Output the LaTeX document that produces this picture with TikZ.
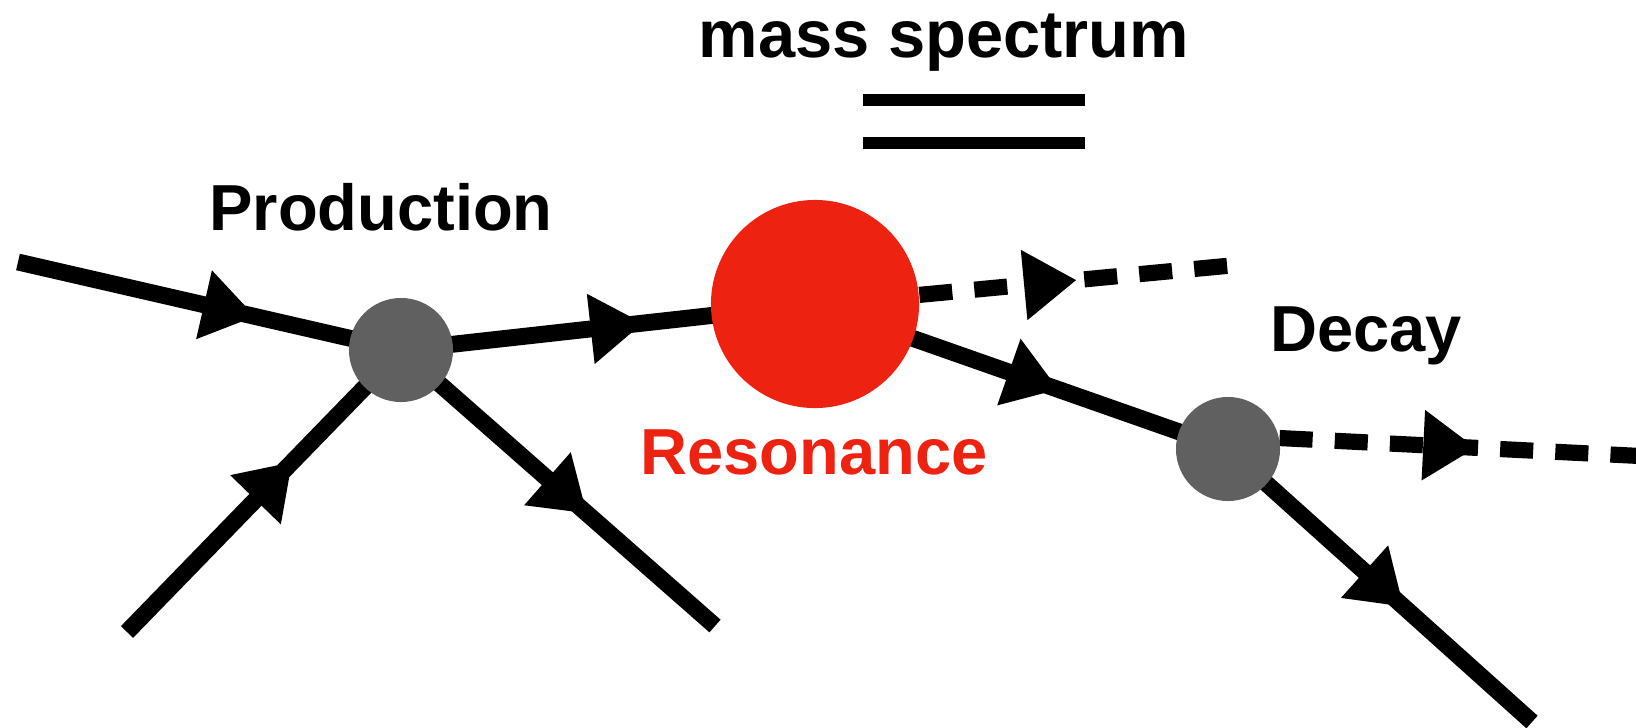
\documentclass[tikz,border=0pt]{standalone}
\usepackage{fontspec}
\setmainfont{Liberation Sans}
\usetikzlibrary{arrows.meta,decorations.markings,backgrounds}
\definecolor{resred}{RGB}{237,34,16}
\definecolor{blobgray}{RGB}{96,96,96}
\begin{document}
\begin{tikzpicture}[x=0.01cm,y=-0.01cm,
  fline/.style={line width=4.8pt},
  barline/.style={line width=3.6pt},
  dashline/.style={line width=4.6pt, dash pattern=on 9.4pt off 6.3pt},
  midarrow/.style={postaction={decorate},decoration={markings,mark=at position #1 with {\arrow{Triangle[length=15pt,width=19pt]}}}},
  blob/.style={circle,fill=blobgray,draw=none,inner sep=0pt,minimum size=1.04cm},
  resonance/.style={circle,fill=resred,draw=none,inner sep=0pt,minimum size=2.08cm},
  lbl/.style={font=\fontsize{18.5}{22}\selectfont\bfseries,inner sep=0pt,anchor=base}]
\useasboundingbox (0,0) rectangle (1636,727);
\node[blob] (prod) at (401,350) {};
\node[resonance] (res) at (815,304) {};
\node[blob] (dk) at (1228,449) {};
\coordinate (in1) at (18,262);
\coordinate (in2) at (127,632);
\coordinate (out1) at (715,626);
\coordinate (dash1) at (1247,264);
\coordinate (dash2) at (1640,456);
\coordinate (out2) at (1532,722);
\begin{pgfonlayer}{background}
\draw[fline,midarrow=0.62] (in1) -- (prod.center);
\draw[fline,midarrow=0.605] (in2) -- (prod.center);
\draw[fline,midarrow=0.595] (prod.center) -- (out1);
\draw[fline,midarrow=0.585] (prod.center) -- (res.center);
\draw[fline,midarrow=0.59] (res.center) -- (dk.center);
\draw[fline,midarrow=0.58] (dk.center) -- (out2);
\draw[dashline,midarrow=0.48] (res.5) -- (dash1);
\draw[dashline,midarrow=0.545] (dk.12) -- (dash2);
\end{pgfonlayer}
\node[lbl,font=\fontsize{19}{23}\selectfont\bfseries] (ms) at (944,57) {mass spectrum};
\draw[barline] (863,100) -- (1085,100);
\draw[barline] (863,143) -- (1085,143);
\node[lbl] (prodlbl) at (381,230) {Production};
\node[lbl,text=resred] (reslbl) at (814,474) {Resonance};
\node[lbl] (dklbl) at (1366,351) {Decay};
\end{tikzpicture}
\end{document}
